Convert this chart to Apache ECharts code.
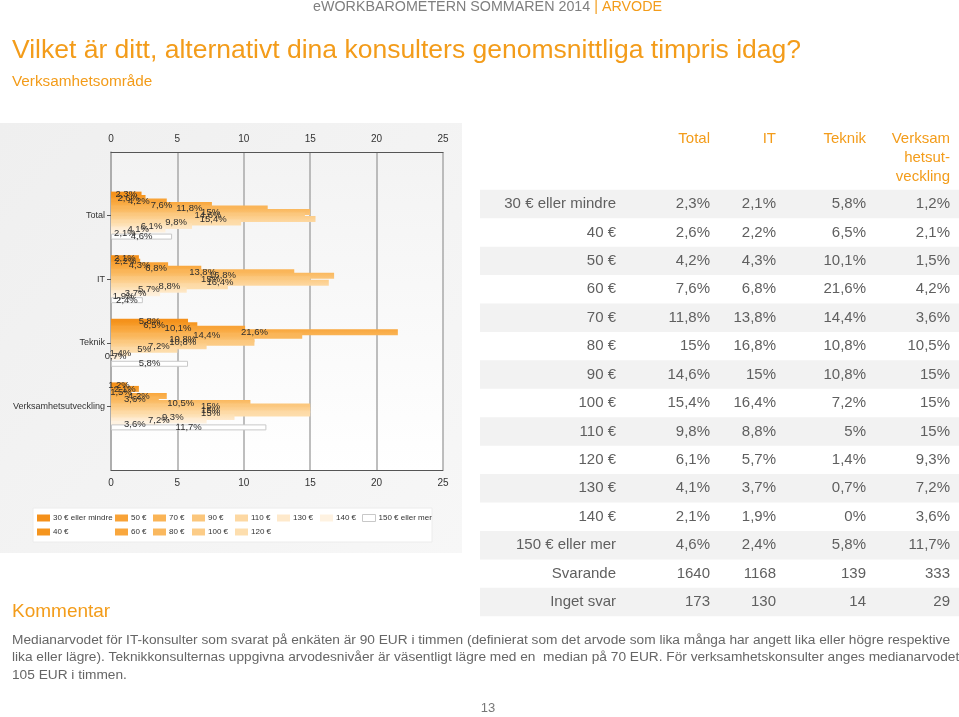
<!DOCTYPE html>
<html>
<head>
<meta charset="utf-8">
<script src="https://cdn.jsdelivr.net/npm/echarts@6/dist/echarts.min.js"></script>
<style>
html,body{margin:0;padding:0;background:#fff;}
#c{width:959px;height:717px;}
</style>
</head>
<body>
<div id="c"></div>
<script>
// ---- data ----
var categories = ['Total', 'IT', 'Teknik', 'Verksamhetsutveckling'];
var priceLevels = ['30 € eller mindre', '40 €', '50 €', '60 €', '70 €', '80 €', '90 €', '100 €', '110 €', '120 €', '130 €', '140 €', '150 € eller mer'];
var total  = [2.3, 2.6, 4.2, 7.6, 11.8, 15, 14.6, 15.4, 9.8, 6.1, 4.1, 2.1, 4.6];
var it     = [2.1, 2.2, 4.3, 6.8, 13.8, 16.8, 15, 16.4, 8.8, 5.7, 3.7, 1.9, 2.4];
var teknik = [5.8, 6.5, 10.1, 21.6, 14.4, 10.8, 10.8, 7.2, 5, 1.4, 0.7, 0, 5.8];
var verks  = [1.2, 2.1, 1.5, 4.2, 3.6, 10.5, 15, 15, 15, 9.3, 7.2, 3.6, 11.7];
var svarande  = [1640, 1168, 139, 333];
var ingetSvar = [173, 130, 14, 29];
var tableHeaders = ['Total', 'IT', 'Teknik', 'Verksam\nhetsut-\nveckling'];
var xTicks = [0, 5, 10, 15, 20, 25];

// ---- styles ----
var colors = ['#F4901A', '#F5951E', '#F8A236', '#F9A73D', '#FAB456', '#FAB85E', '#FBC67B', '#FCCC87',
              '#FDD8A2', '#FDDEAE', '#FEE9CB', '#FEF2E1', '#FFFFFF'];
var ORANGE = '#F39C1A';
var GRAY = '#5f5f5f';
var SMALL = "'Liberation Sans', Arial, sans-serif";
var SANS = "'Liberation Sans', Arial, sans-serif";

function fmt(v) { return String(v).replace('.', ',') + '%'; }

var groups = [total, it, teknik, verks];
var series = priceLevels.map(function (name, i) {
  var d = ['-'];
  groups.forEach(function (g) { d.push(g[i]); });
  d.push('-');
  var last = i === priceLevels.length - 1;
  return {
    name: name,
    type: 'bar',
    barWidth: 6,
    barGap: '-41.7%',
    data: d,
    itemStyle: {
      color: last ? '#FFFFFF' : new echarts.graphic.LinearGradient(0, 0, 0, 1, [
        { offset: 0, color: colors[i] }, { offset: 1, color: colors[Math.min(i + 1, colors.length - 2)] }]),
      borderColor: last ? '#c8c8c8' : colors[i],
      borderWidth: last ? 1 : 0
    },
    label: {
      show: true,
      position: 'inside',
      color: '#2e2e2e',
      fontSize: 9.5,
      fontFamily: SMALL,
      formatter: function (p) { return p.value === 0 ? '' : fmt(p.value); }
    }
  };
});

// legends: column-major layout
var legendCols = [[0, 1], [2, 3], [4, 5], [6, 7], [8, 9], [10], [11], [12]];
var legendX = [37, 115, 153, 192, 235, 277, 320, 362];
var legends = legendCols.map(function (col, k) {
  return {
    orient: 'vertical',
    left: legendX[k],
    top: 514,
    itemWidth: 13,
    itemHeight: 7,
    itemGap: 6,
    padding: 0,
    icon: 'rect',
    selectedMode: false,
    itemStyle: { color: 'inherit' },
    textStyle: { fontSize: 8, fontFamily: SMALL, color: '#333', padding: [0, 0, 0, -2] },
    data: col.map(function (i) {
      return { name: priceLevels[i], itemStyle: { color: colors[i], borderColor: i === 12 ? '#c8c8c8' : colors[i], borderWidth: i === 12 ? 1 : 0 } };
    })
  };
});

// graphics: page text + table
var graphic = [];
graphic.push({
  type: 'rect', z: -100, silent: true,
  shape: { x: 0, y: 123, width: 462, height: 430 },
  style: { fill: new echarts.graphic.LinearGradient(0, 0, 1, 1, [
    { offset: 0, color: '#efefef' }, { offset: 1, color: '#f7f7f7' }]) }
});
graphic.push({
  type: 'rect', z: -99, silent: true,
  shape: { x: 111, y: 152, width: 332, height: 318 },
  style: { fill: new echarts.graphic.LinearGradient(0, 0, 0, 1, [
    { offset: 0, color: '#f3f3f3' }, { offset: 1, color: '#ffffff' }]) }
});
graphic.push({
  type: 'rect', z: -99, silent: true,
  shape: { x: 33, y: 508, width: 399, height: 34 },
  style: { fill: '#ffffff', stroke: '#ececec', lineWidth: 1 }
});
graphic.push({
  type: 'text', left: 313, top: 0,
  style: {
    text: '{g|eWORKBAROMETERN SOMMAREN 2014 }{o|| ARVODE}',
    rich: {
      g: { fontSize: 14.3, fontFamily: SANS, fill: '#7f7f7f' },
      o: { fontSize: 14.3, fontFamily: SANS, fill: ORANGE }
    }
  }
});
graphic.push({
  type: 'text', left: 12, top: 37,
  style: { text: 'Vilket är ditt, alternativt dina konsulters genomsnittliga timpris idag?', fontSize: 26.5, fontFamily: SANS, fill: ORANGE }
});
graphic.push({
  type: 'text', left: 12, top: 74,
  style: { text: 'Verksamhetsområde', fontSize: 15.3, fontFamily: SANS, fill: ORANGE }
});
// table
var colRight = [710, 776, 866, 950];
tableHeaders.forEach(function (h, j) {
  graphic.push({
    type: 'text', x: colRight[j], y: 129,
    style: { text: h, fontSize: 15, fontFamily: SANS, fill: ORANGE, align: 'right', verticalAlign: 'top', lineHeight: 19 }
  });
});
var rowLabels = priceLevels.concat(['Svarande', 'Inget svar']);
var rowY0 = 204, rowH = 28.43;
rowLabels.forEach(function (lab, r) {
  var cy = rowY0 + r * rowH;
  if (r % 2 === 0) {
    graphic.push({
      type: 'rect', z: -50, silent: true,
      shape: { x: 480, y: cy - rowH / 2, width: 479, height: rowH },
      style: { fill: '#f2f2f2' }
    });
  }
  graphic.push({
    type: 'text', x: 616, y: cy,
    style: { text: lab, fontSize: 15, fontFamily: SANS, fill: GRAY, align: 'right', verticalAlign: 'middle' }
  });
  for (var j = 0; j < 4; j++) {
    var val;
    if (r < priceLevels.length) val = fmt(groups[j][r]);
    else if (r === priceLevels.length) val = String(svarande[j]);
    else val = String(ingetSvar[j]);
    graphic.push({
      type: 'text', x: colRight[j], y: cy,
      style: { text: val, fontSize: 15, fontFamily: SANS, fill: GRAY, align: 'right', verticalAlign: 'middle' }
    });
  }
});
graphic.push({
  type: 'text', left: 12, top: 602,
  style: { text: 'Kommentar', fontSize: 19, fontFamily: SANS, fill: ORANGE }
});
graphic.push({
  type: 'text', left: 12, top: 631,
  style: {
    text: 'Medianarvodet för IT-konsulter som svarat på enkäten är 90 EUR i timmen (definierat som det arvode som lika många har angett lika eller högre respektive\n' +
          'lika eller lägre). Teknikkonsulternas uppgivna arvodesnivåer är väsentligt lägre med en  median på 70 EUR. För verksamhetskonsulter anges medianarvodet\n' +
          '105 EUR i timmen.',
    fontSize: 13.7, fontFamily: SANS, fill: '#666', lineHeight: 17.5
  }
});
graphic.push({
  type: 'text', x: 488, y: 708,
  style: { text: '13', fontSize: 13, fontFamily: SANS, fill: '#777', align: 'center', verticalAlign: 'middle' }
});

var axisLabelStyle = { fontSize: 10, fontFamily: SMALL, color: '#333' };
var option = {
  backgroundColor: '#ffffff',
  animation: false,
  textStyle: { fontFamily: SANS },
  grid: { left: 111, top: 152, width: 332, height: 318, containLabel: false },
  legend: legends,
  graphic: graphic,
  xAxis: [
    {
      type: 'value', position: 'top', min: xTicks[0], max: xTicks[xTicks.length - 1], interval: 5,
      axisLine: { show: true, lineStyle: { color: '#555', width: 1 } },
      axisTick: { show: false },
      axisLabel: Object.assign({ margin: 8 }, axisLabelStyle),
      splitLine: { show: true, lineStyle: { color: '#a8a8a8', width: 1.5 } }
    },
    {
      type: 'value', position: 'bottom', min: xTicks[0], max: xTicks[xTicks.length - 1], interval: 5,
      axisLine: { show: true, lineStyle: { color: '#555', width: 1 } },
      axisTick: { show: false },
      axisLabel: Object.assign({ margin: 8 }, axisLabelStyle),
      splitLine: { show: false }
    }
  ],
  yAxis: {
    type: 'category',
    inverse: true,
    boundaryGap: false,
    data: [''].concat(categories).concat(['']),
    axisLine: { show: true, lineStyle: { color: '#a8a8a8', width: 1.5 } },
    axisTick: { show: true, length: 4, lineStyle: { color: '#555' }, interval: function (idx, v) { return v !== ''; } },
    axisLabel: { margin: 6, fontSize: 9, fontFamily: SMALL, color: '#333' },
    splitLine: { show: false }
  },
  series: series
};

var chart = echarts.init(document.getElementById('c'), null, { renderer: 'canvas' });
chart.setOption(option);
</script>
</body>
</html>
